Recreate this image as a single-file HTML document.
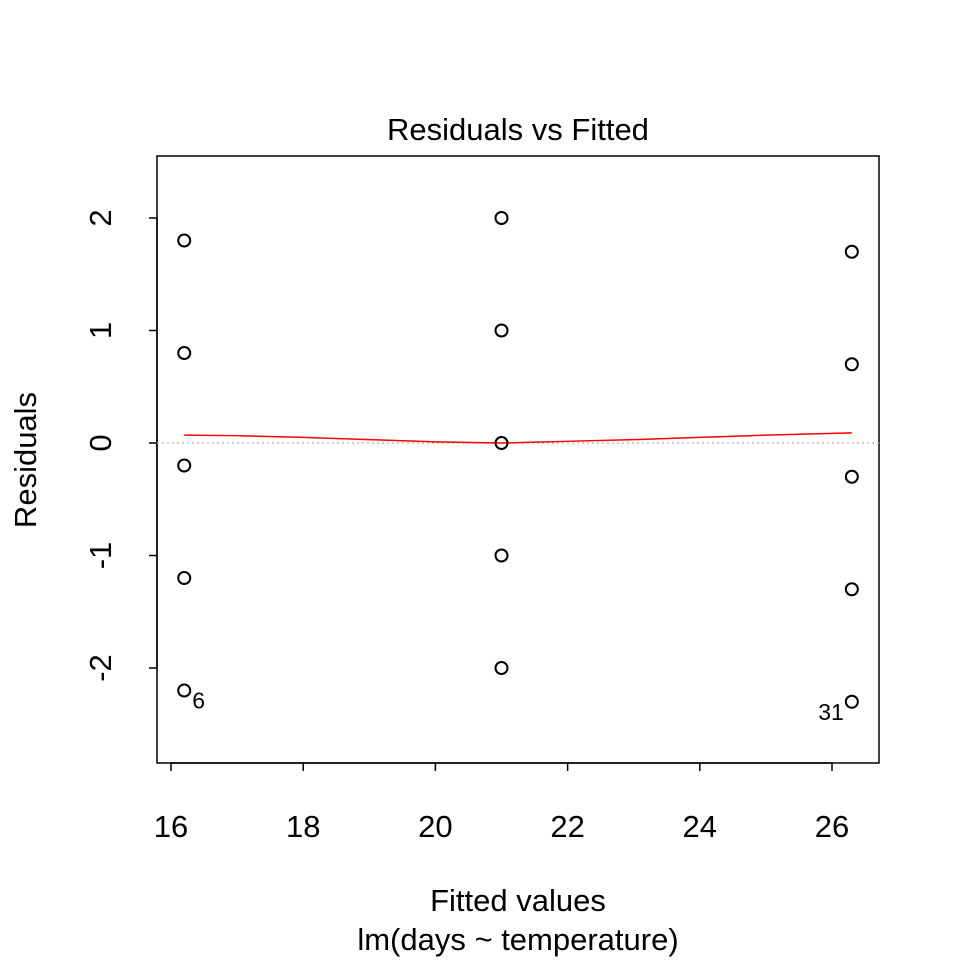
<!DOCTYPE html>
<html><head><meta charset="utf-8"><style>
body{margin:0;background:#fff}
svg text{font-family:"Liberation Sans",Arial,sans-serif;fill:#000}
</style></head><body>
<svg id="chart" width="960" height="960" viewBox="0 0 960 960" xmlns="http://www.w3.org/2000/svg">
<rect width="960" height="960" fill="#fff"/>
<text x="518" y="140" font-size="31" text-anchor="middle">Residuals vs Fitted</text>
<rect x="157" y="156" width="722" height="607" fill="none" stroke="#000" stroke-width="1.5"/>
<text x="518" y="911" font-size="31" text-anchor="middle">Fitted values</text>
<text x="518" y="950" font-size="31" text-anchor="middle">lm(days ~ temperature)</text>
<text transform="translate(36,460) rotate(-90)" font-size="31" text-anchor="middle">Residuals</text>
<g id="axes"></g>
<g id="marks"></g>
</svg>
<script>
const xTicks=[16,18,20,22,24,26];
const yTicks=[-2,-1,0,1,2];
const fittedX=[16.2,16.2,16.2,16.2,16.2,21,21,21,21,21,26.3,26.3,26.3,26.3,26.3];
const residY=[1.8,0.8,-0.2,-1.2,-2.2,2,1,0,-1,-2,1.7,0.7,-0.3,-1.3,-2.3];
const smoothX=[16.2,17,18,19,20,21,22,23,24,25,26.3];
const smoothY=[0.07,0.065,0.05,0.03,0.01,0.0,0.015,0.03,0.05,0.07,0.09];
const pointLabels=[{i:4,t:"6"},{i:14,t:"31"}];
const NS="http://www.w3.org/2000/svg";
const sx=v=>171+(v-16)*66.1;
const sy=v=>443-v*112.5;
const ax=document.getElementById('axes'),mk=document.getElementById('marks');
function el(tag,attrs,parent){const e=document.createElementNS(NS,tag);for(const k in attrs)e.setAttribute(k,attrs[k]);parent.appendChild(e);return e;}
let xl=el('line',{x1:sx(16),x2:sx(26),y1:763,y2:763,stroke:'#000','stroke-width':1.5},ax);


xTicks.forEach(v=>{
 const t=el('line',{x1:sx(v),x2:sx(v),y1:763,y2:771,stroke:'#000','stroke-width':1.5},ax);
 
 
 const l=el('text',{x:sx(v),y:837,'font-size':31,'text-anchor':'middle'},ax);l.textContent=v;
 
 
});
let yl=el('line',{x1:157,x2:157,y1:sy(-2),y2:sy(2),stroke:'#000','stroke-width':1.5},ax);


yTicks.forEach(v=>{
 const t=el('line',{x1:149,x2:157,y1:sy(v),y2:sy(v),stroke:'#000','stroke-width':1.5},ax);
 
 
 const l=el('text',{transform:`translate(111,${sy(v)}) rotate(-90)`,'font-size':31,'text-anchor':'middle'},ax);l.textContent=v;
 
 
});
const zl=el('line',{x1:157,x2:879,y1:sy(0),y2:sy(0),stroke:'#bbb','stroke-width':1.5,'stroke-dasharray':'2,3'},mk);


const sm=el('polyline',{points:smoothX.map((x,i)=>sx(x)+','+sy(smoothY[i])).join(' '),fill:'none',stroke:'#f00','stroke-width':1.5},mk);


fittedX.forEach((x,i)=>{
 const c=el('circle',{cx:sx(x),cy:sy(residY[i]),r:6,fill:'none',stroke:'#000','stroke-width':2},mk);
 
 
});
pointLabels.forEach(p=>{
 const x=sx(fittedX[p.i]),y=sy(residY[p.i]);
 const right=p.t==="6";
 const l=el('text',{x:right?x+8:x-8,y:y+18,'font-size':23,'text-anchor':right?'start':'end'},mk);l.textContent=p.t;
 
 
});
</script>
</body></html>
